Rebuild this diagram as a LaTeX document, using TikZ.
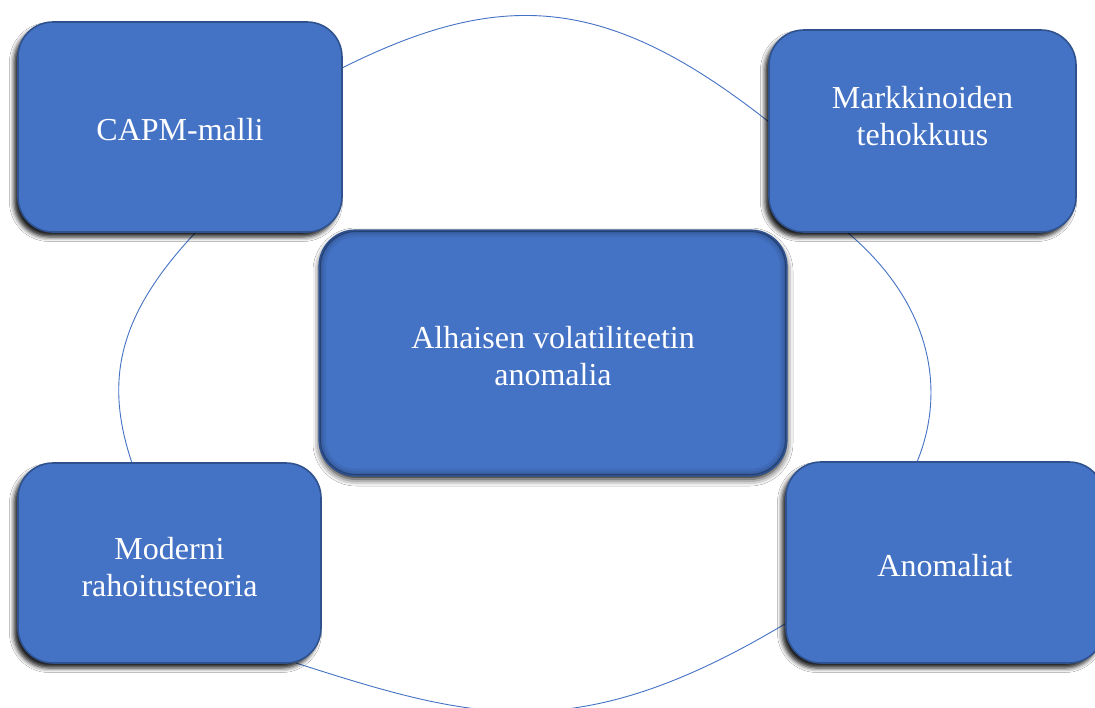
\documentclass[tikz,border=0pt]{standalone}
\usepackage{fontspec}
\setmainfont{Liberation Serif}
\usetikzlibrary{shadows.blur}
\definecolor{boxfill}{HTML}{4472C4}
\definecolor{boxedge}{HTML}{2F528F}
\definecolor{ringcol}{HTML}{4472C4}
\tikzset{
  ring/.style={draw=ringcol, line width=0.9pt},
  sidebox/.style={rounded corners=35pt, fill=boxfill, draw=boxedge, line width=1.6pt,
    blur shadow={shadow xshift=-4pt, shadow yshift=-5pt, shadow blur radius=4.5pt, shadow opacity=90}},
  centerbox/.style={rounded corners=36pt, fill=boxfill, draw=boxedge, line width=1.6pt,
    blur shadow={shadow xshift=0pt, shadow yshift=-4pt, shadow blur radius=7pt, shadow opacity=95}},
  labeltext/.style={text=white, align=center, font=\fontsize{32}{37}\selectfont},
}
\begin{document}
\begin{tikzpicture}[x=1pt, y=-1pt]
\useasboundingbox (0,0) rectangle (1095,707);
\fill[white] (0,0) rectangle (1095,707);
% ends of the ring arcs, on the edges of the outer boxes
\coordinate (capmE) at (342,68);
\coordinate (capmS) at (196,232);
\coordinate (markW) at (769,122);
\coordinate (markS) at (847,232);
\coordinate (anomN) at (917,462);
\coordinate (anomW) at (786.5,623);
\coordinate (modS) at (296,663);
\coordinate (modN) at (132,463);
% ring arcs (drawn first, so the boxes cover their ends)
\draw[ring] (capmE) .. controls +(161,-80.5) and +(-161,-127) .. (markW);
\draw[ring] (markS) .. controls +(85,72) and +(29.5,-72) .. (anomN);
\draw[ring] (anomW) .. controls +(-210,126) and +(178,57) .. (modS);
\draw[ring] (modN) .. controls +(-28,-83) and +(-78,83) .. (capmS);
% outer boxes
\node[sidebox, minimum width=324pt, minimum height=210pt] (capm) at (180,127) {};
\node[labeltext] (capmtxt) at (180,130) {CAPM-malli};
\node[sidebox, minimum width=307pt, minimum height=202pt] (mark) at (922.5,131) {};
\node[labeltext] (marktxt) at (922.5,116) {Markkinoiden\\tehokkuus};
\node[sidebox, minimum width=303pt, minimum height=200pt] (mod) at (169.5,563) {};
\node[labeltext] (modtxt) at (169.5,567) {Moderni\\rahoitusteoria};
\node[sidebox, minimum width=318pt, minimum height=201pt] (anom) at (945,562.5) {};
\node[labeltext] (anomtxt) at (945,565.5) {Anomaliat};
% centre box
\node[centerbox, minimum width=466pt, minimum height=244pt] (cen) at (553,353) {};
\begin{scope}
  \clip[rounded corners=36pt] (cen.north west) rectangle (cen.south east);
  \draw[rounded corners=36pt, line width=14pt, black, opacity=0.06] (cen.north west) rectangle (cen.south east);
  \draw[rounded corners=36pt, line width=9pt, black, opacity=0.07] (cen.north west) rectangle (cen.south east);
  \draw[rounded corners=36pt, line width=5pt, black, opacity=0.09] (cen.north west) rectangle (cen.south east);
\end{scope}
\draw[rounded corners=36pt, draw=boxedge, line width=1.6pt] (cen.north west) rectangle (cen.south east);
\node[labeltext] (centxt) at (553,356) {Alhaisen volatiliteetin\\anomalia};
\end{tikzpicture}
\end{document}
